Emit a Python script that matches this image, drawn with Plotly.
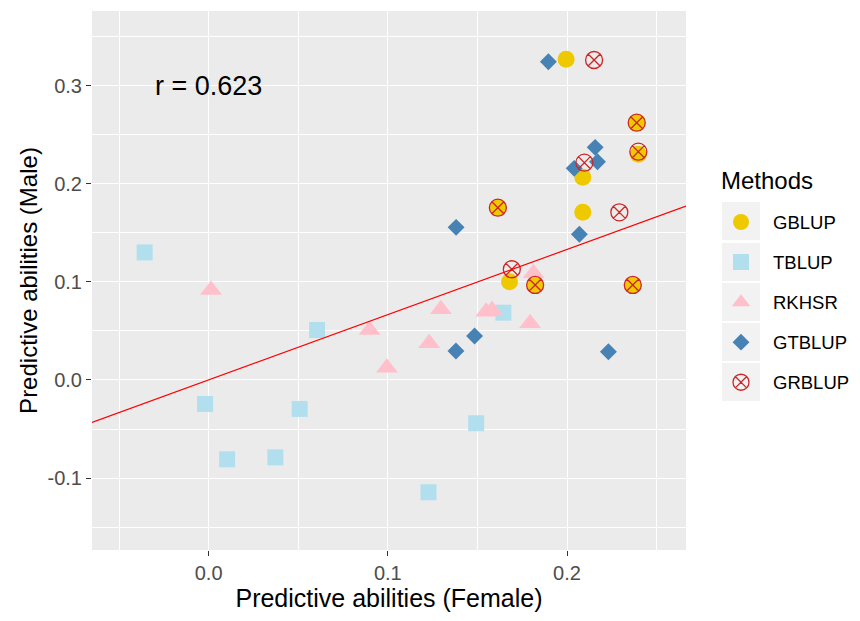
import plotly.graph_objects as go

# Predictive abilities per method: female (x) vs male (y)
methods = ["GBLUP", "TBLUP", "RKHSR", "GTBLUP", "GRBLUP"]

gblup_f = [0.1995, 0.2389, 0.2398, 0.2088, 0.1614, 0.2088, 0.1679, 0.1822, 0.2367]
gblup_m = [0.3267, 0.2621, 0.2300, 0.2066, 0.1755, 0.1708, 0.1001, 0.0968, 0.0968]

tblup_f = [-0.0357, -0.0020, 0.0103, 0.0372, 0.0508, 0.0605, 0.1227, 0.1493, 0.1645]
tblup_m = [0.1300, -0.0244, -0.0808, -0.0788, -0.0295, 0.0509, -0.1144, -0.0441, 0.0686]

rkhsr_f = [0.0013, 0.0898, 0.0995, 0.1231, 0.1296, 0.1549, 0.1581, 0.1794, 0.1813]
rkhsr_m = [0.0917, 0.0509, 0.0125, 0.0374, 0.0720, 0.0696, 0.0713, 0.0578, 0.1087]

gtblup_f = [0.1381, 0.1380, 0.1484, 0.1896, 0.2069, 0.2040, 0.2157, 0.2170, 0.2231]
gtblup_m = [0.1555, 0.0295, 0.0448, 0.3242, 0.1484, 0.2156, 0.2370, 0.2224, 0.0288]

grblup_f = [0.2151, 0.2389, 0.2398, 0.2097, 0.1614, 0.2292, 0.1692, 0.1822, 0.2367]
grblup_m = [0.3260, 0.2621, 0.2326, 0.2214, 0.1755, 0.1708, 0.1128, 0.0968, 0.0968]

# fitted line and correlation label
fit_slope = 0.665
fit_intercept = 0.0
r_label = "r = 0.623"

x_ticks = [0.0, 0.1, 0.2]
x_tick_text = ["0.0", "0.1", "0.2"]
y_ticks = [-0.1, 0.0, 0.1, 0.2, 0.3]
y_tick_text = ["-0.1", "0.0", "0.1", "0.2", "0.3"]
x_range = [-0.0651, 0.2664]
y_range = [-0.1732, 0.3759]

FONT = "Liberation Sans, Arial, sans-serif"

W, H = 860, 621
ML, MR, MT, MB = 92, 174, 11, 71
PW, PH = W - ML - MR, H - MT - MB

styles = {
    "GBLUP": dict(symbol="circle", color="#EEC900", size=17, line=dict(width=0)),
    "TBLUP": dict(symbol="square", color="#B2DFEE", size=16, line=dict(width=0)),
    "RKHSR": dict(symbol="triangle-up", color="#FFC0CB", size=19, line=dict(width=0)),
    "GTBLUP": dict(symbol="diamond", color="#4682B4", size=13, line=dict(width=0)),
    "GRBLUP": dict(symbol="circle-x-open", color="#CD2626", size=17,
                   line=dict(width=1.3, color="#CD2626")),
}
series = {
    "GBLUP": (gblup_f, gblup_m),
    "TBLUP": (tblup_f, tblup_m),
    "RKHSR": (rkhsr_f, rkhsr_m),
    "GTBLUP": (gtblup_f, gtblup_m),
    "GRBLUP": (grblup_f, grblup_m),
}

fig = go.Figure()
for m in methods:
    xs, ys = series[m]
    fig.add_trace(go.Scatter(
        x=xs, y=ys, mode="markers", name=m, legendgroup=m,
        marker=styles[m], cliponaxis=False,
    ))

line_x = [x_range[0], x_range[1]]
line_y = [fit_intercept + fit_slope * v for v in line_x]
fig.add_trace(go.Scatter(
    x=line_x, y=line_y, mode="lines", line=dict(color="#FF0000", width=1.2),
    showlegend=False, hoverinfo="skip",
))

fig.add_annotation(
    x=0.0, y=0.3, xref="x", yref="y", text=r_label, showarrow=False,
    font=dict(family=FONT, size=27, color="black"),
)

# legend title and grey key backgrounds
def px_to_paper_x(px):
    return (px - ML) / PW

def px_to_paper_y(py):
    return (H - MB - py) / PH

fig.add_annotation(
    x=px_to_paper_x(719), y=px_to_paper_y(180), xref="paper", yref="paper",
    xanchor="left", yanchor="middle", text="Methods", showarrow=False,
    font=dict(family=FONT, size=24, color="black"),
)
key_centers = [221, 262, 302, 342, 382]
for cy in key_centers:
    fig.add_shape(
        type="rect", xref="paper", yref="paper",
        x0=px_to_paper_x(722), x1=px_to_paper_x(760),
        y0=px_to_paper_y(cy + 19), y1=px_to_paper_y(cy - 19),
        fillcolor="#F2F2F2", line=dict(width=0), layer="below",
    )

axis_common = dict(
    showline=False, zeroline=False, ticks="outside", ticklen=5, tickwidth=1,
    tickcolor="#333333", gridcolor="white", gridwidth=1.3,
    tickfont=dict(family=FONT, size=20, color="#4D4D4D"),
)
fig.update_xaxes(
    range=x_range, tickvals=x_ticks, ticktext=x_tick_text,
    minor=dict(dtick=0.05, tick0=0.0, showgrid=True, gridcolor="white", gridwidth=0.6, ticks=""),
    title=dict(text="Predictive abilities (Female)", standoff=6,
               font=dict(family=FONT, size=25, color="black")),
    **axis_common,
)
fig.update_yaxes(
    range=y_range, tickvals=y_ticks, ticktext=y_tick_text,
    minor=dict(dtick=0.05, tick0=0.0, showgrid=True, gridcolor="white", gridwidth=0.6, ticks=""),
    title=dict(text="Predictive abilities (Male)", standoff=3,
               font=dict(family=FONT, size=24, color="black")),
    **axis_common,
)

fig.update_layout(
    width=W, height=H,
    margin=dict(l=ML, r=MR, t=MT, b=MB, autoexpand=False),
    plot_bgcolor="#EBEBEB", paper_bgcolor="white",
    font=dict(family=FONT, color="black"),
    legend=dict(
        x=px_to_paper_x(709), y=px_to_paper_y(203.5), xanchor="left", yanchor="top",
        bgcolor="rgba(0,0,0,0)", itemwidth=54, tracegroupgap=13,
        traceorder="grouped", font=dict(family=FONT, size=18.5, color="black"),
    ),
)

fig.write_html("out.html")
